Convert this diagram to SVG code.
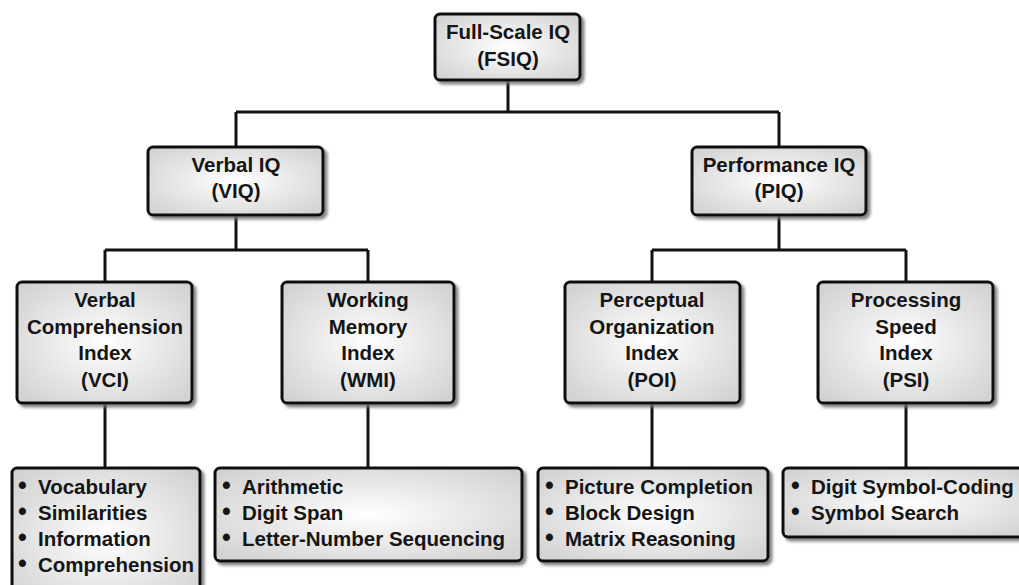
<svg xmlns="http://www.w3.org/2000/svg" width="1019" height="585" viewBox="0 0 1019 585">
<defs>
<radialGradient id="g" cx="50%" cy="50%" r="65%">
<stop offset="0" stop-color="#ffffff"/>
<stop offset="1" stop-color="#d2d2d2"/>
</radialGradient>
<filter id="sh" x="-10%" y="-10%" width="130%" height="130%">
<feDropShadow dx="3" dy="3" stdDeviation="1.5" flood-color="#6e6e6e" flood-opacity="0.85"/>
</filter>
<style>
.box{fill:url(#g);stroke:#111;stroke-width:3;filter:url(#sh)}
.t{font-family:"Liberation Sans",Arial,sans-serif;font-weight:bold;font-size:20.5px;fill:#151515;text-anchor:middle}
.l{font-family:"Liberation Sans",Arial,sans-serif;font-weight:bold;font-size:20.5px;fill:#151515}
.b{font-size:25px}
.c{fill:none;stroke:#111;stroke-width:3}
</style>
</defs>
<rect width="1019" height="585" fill="#fff"/>
<g id="connectors">
<path class="c" d="M508 80V112M236 112H779M236 112V147M779 112V147"/>
<path class="c" d="M236 215V250M105 250H368M105 250V282M368 250V282"/>
<path class="c" d="M779 215V250M652 250H906M652 250V282M906 250V282"/>
<path class="c" d="M105 403V468M368 403V468M652 403V468M906 403V468"/>
</g>
<g id="fsiq">
<rect class="box" x="435" y="14" width="145" height="66" rx="5"/>
<text class="t" x="508" y="39">Full-Scale IQ</text>
<text class="t" x="508" y="66">(FSIQ)</text>
</g>
<g id="viq">
<rect class="box" x="148" y="147" width="175" height="68" rx="5"/>
<text class="t" x="236" y="172">Verbal IQ</text>
<text class="t" x="236" y="198">(VIQ)</text>
</g>
<g id="piq">
<rect class="box" x="692" y="147" width="174" height="68" rx="5"/>
<text class="t" x="779" y="172">Performance IQ</text>
<text class="t" x="779" y="198">(PIQ)</text>
</g>
<g id="vci">
<rect class="box" x="17" y="282" width="175" height="121" rx="5"/>
<text class="t" x="105" y="307">Verbal</text>
<text class="t" x="105" y="333.5">Comprehension</text>
<text class="t" x="105" y="360">Index</text>
<text class="t" x="105" y="386.5">(VCI)</text>
</g>
<g id="wmi">
<rect class="box" x="282" y="282" width="172" height="121" rx="5"/>
<text class="t" x="368" y="307">Working</text>
<text class="t" x="368" y="333.5">Memory</text>
<text class="t" x="368" y="360">Index</text>
<text class="t" x="368" y="386.5">(WMI)</text>
</g>
<g id="poi">
<rect class="box" x="565" y="282" width="175" height="121" rx="5"/>
<text class="t" x="652" y="307">Perceptual</text>
<text class="t" x="652" y="333.5">Organization</text>
<text class="t" x="652" y="360">Index</text>
<text class="t" x="652" y="386.5">(POI)</text>
</g>
<g id="psi">
<rect class="box" x="818" y="282" width="175" height="121" rx="5"/>
<text class="t" x="906" y="307">Processing</text>
<text class="t" x="906" y="333.5">Speed</text>
<text class="t" x="906" y="360">Index</text>
<text class="t" x="906" y="386.5">(PSI)</text>
</g>
<g id="vci-list">
<rect class="box" x="12" y="468" width="188" height="140" rx="5"/>
<text class="l" y="494"><tspan class="b" x="18">•</tspan><tspan x="38">Vocabulary</tspan></text>
<text class="l" y="520"><tspan class="b" x="18">•</tspan><tspan x="38">Similarities</tspan></text>
<text class="l" y="546"><tspan class="b" x="18">•</tspan><tspan x="38">Information</tspan></text>
<text class="l" y="572"><tspan class="b" x="18">•</tspan><tspan x="38">Comprehension</tspan></text>
</g>
<g id="wmi-list">
<rect class="box" x="215" y="468" width="307" height="93" rx="5"/>
<text class="l" y="494"><tspan class="b" x="222">•</tspan><tspan x="242">Arithmetic</tspan></text>
<text class="l" y="520"><tspan class="b" x="222">•</tspan><tspan x="242">Digit Span</tspan></text>
<text class="l" y="546"><tspan class="b" x="222">•</tspan><tspan x="242">Letter-Number Sequencing</tspan></text>
</g>
<g id="poi-list">
<rect class="box" x="538" y="468" width="230" height="93" rx="5"/>
<text class="l" y="494"><tspan class="b" x="545">•</tspan><tspan x="565">Picture Completion</tspan></text>
<text class="l" y="520"><tspan class="b" x="545">•</tspan><tspan x="565">Block Design</tspan></text>
<text class="l" y="546"><tspan class="b" x="545">•</tspan><tspan x="565">Matrix Reasoning</tspan></text>
</g>
<g id="psi-list">
<rect class="box" x="783" y="468" width="250" height="69" rx="5"/>
<text class="l" y="494"><tspan class="b" x="791">•</tspan><tspan x="811">Digit Symbol-Coding</tspan></text>
<text class="l" y="520"><tspan class="b" x="791">•</tspan><tspan x="811">Symbol Search</tspan></text>
</g>
</svg>
